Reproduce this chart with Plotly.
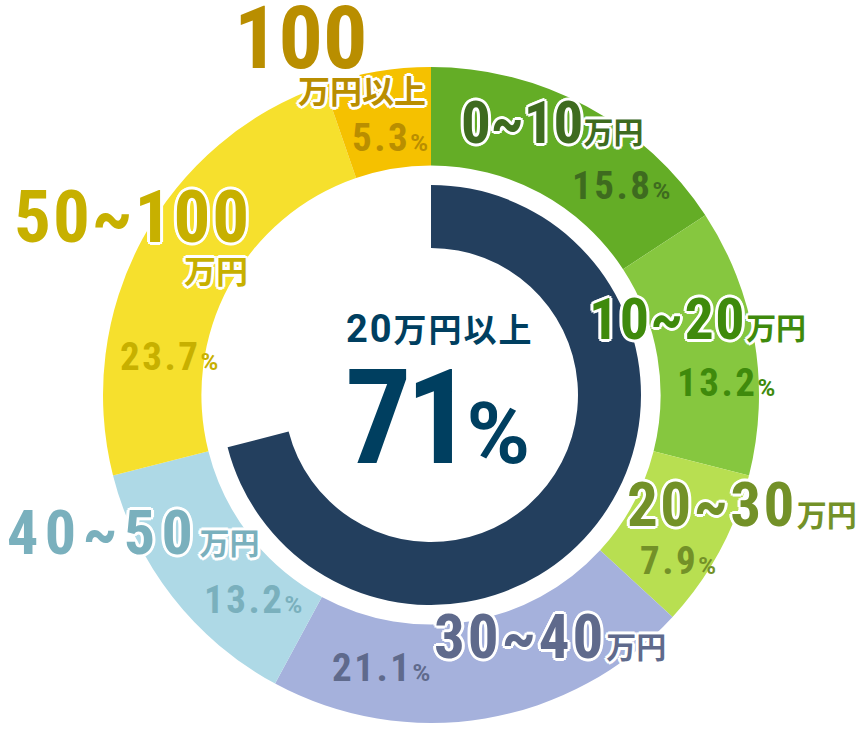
import plotly.graph_objects as go

W, H = 857, 734

# outer ring: income bands, clockwise from 12 o'clock
bands = ["0~10", "10~20", "20~30", "30~40", "40~50", "50~100", "100"]
units = ["万円", "万円", "万円", "万円", "万円", "万円", "万円以上"]
shares = [15.8, 13.2, 7.9, 21.1, 13.2, 23.7, 5.3]
ring_colors = ["#64ad26", "#86c73f", "#b8df51", "#a5b1dc", "#aed9e6", "#f6e02d", "#f5c100"]
text_colors = ["#3e6b1f", "#3f8a0c", "#739128", "#5f6a8c", "#7ab0bd", "#c7b000", "#b98e00"]

# inner arc
over20_label = "20万円以上"
over20_share = 71

FONT = "Roboto, Noto Sans CJK JP"

offs = [(3, 0), (-3, 0), (0, 3), (0, -3), (2, 2), (-2, -2), (2, -2), (-2, 2)]
OUTLINE = ", ".join(f"{dx}px {dy}px 0 #fff" for dx, dy in offs)


def dom(cx, cy, r):
    return dict(x=[(cx - r) / W, (cx + r) / W], y=[1 - (cy + r) / H, 1 - (cy - r) / H])


fig = go.Figure()

fig.add_trace(go.Pie(
    labels=[b + u for b, u in zip(bands, units)],
    values=shares,
    sort=False,
    direction="clockwise",
    rotation=0,
    hole=0.70,
    marker=dict(colors=ring_colors, line=dict(width=0)),
    textinfo="none",
    hoverinfo="label+value",
    showlegend=False,
    domain=dom(431, 395, 328),
))

fig.add_trace(go.Pie(
    labels=[over20_label, "20万円未満"],
    values=[over20_share, 100 - over20_share],
    sort=False,
    direction="counterclockwise",
    rotation=0,
    hole=0.70,
    marker=dict(colors=["#233f5e", "rgba(0,0,0,0)"], line=dict(width=0)),
    textinfo="none",
    hoverinfo="skip",
    showlegend=False,
    domain=dom(431, 395, 210),
))


def label(text, x, y, size, color, outline=True, xanchor="left"):
    fig.add_annotation(
        text=text, x=x / W, y=1 - y / H, xref="paper", yref="paper",
        xanchor=xanchor, yanchor="middle", showarrow=False,
        font=dict(family=FONT, size=size, color=color, weight="bold",
                  shadow=OUTLINE if outline else "none"),
    )


def cond(s, ls=0):
    return f"<span style='font-stretch:condensed;letter-spacing:{ls}px'>{s}</span>"


def unit(s, size, ls=0):
    return f"<span style='font-size:{size}px;letter-spacing:{ls}px'>{s}</span>"


def pct(v):
    return cond(f"{v:.1f}", 2.5) + unit("%", 24)


# band labels: (x, y, size, letter spacing) in px
band_pos = [(459, 123, 59, 0), (587, 319, 58, 1.5), (625, 505, 61, 2.5),
            (432, 637, 61, 3), (5, 532, 62, 6.5)]
pct_pos = [(570, 186), (675, 383), (638, 561), (330, 668), (202, 600), (118, 357), (350, 138)]

for i, (x, y, s, ls) in enumerate(band_pos):
    label(cond(bands[i], ls) + unit(units[i], 30), x, y, s, text_colors[i])

# 50~100万円 (two lines)
label(cond(bands[5], 2), 12, 217, 73, text_colors[5])
label(units[5], 182, 272, 32, text_colors[5])
# 100万円以上 (two lines)
label(cond(bands[6]), 232, 37, 88, text_colors[6], outline=False)
label(units[6], 296, 92, 32, text_colors[6])

for i, (x, y) in enumerate(pct_pos):
    label(pct(shares[i]), x, y, 39, text_colors[i], outline=False)

# centre
label(unit("20", 38, 2) + unit("万円以上", 33, 2), 440, 329, 33, "#003f60", outline=False, xanchor="center")
label(cond(str(over20_share), -6) + unit("%", 86), 343, 418, 132, "#003f60", outline=False)

fig.update_layout(
    width=W, height=H,
    margin=dict(l=0, r=0, t=0, b=0),
    paper_bgcolor="white", plot_bgcolor="white",
    showlegend=False,
)

fig.write_html("out.html", config={"displayModeBar": False},
               post_script="document.body.style.margin='0';")
